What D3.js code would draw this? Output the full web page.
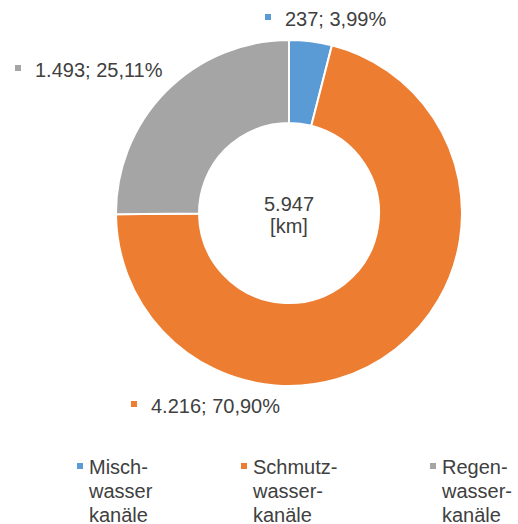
<!DOCTYPE html>
<html>
<head>
<meta charset="utf-8">
<script src="https://cdn.jsdelivr.net/npm/d3@7"></script>
<style>
  html, body { margin: 0; padding: 0; background: #fff; }
  svg { display: block; font-family: "Liberation Sans", Arial, sans-serif; }
</style>
</head>
<body>
<svg id="chart" width="518" height="524"></svg>
<script>
// ---- data ----
const categories = ["Misch-wasser kanäle", "Schmutz-wasser-kanäle", "Regen-wasser-kanäle"];
const legendLines = [["Misch-", "wasser", "kanäle"], ["Schmutz-", "wasser-", "kanäle"], ["Regen-", "wasser-", "kanäle"]];
const values = [237, 4216, 1493];
const valueLabels = ["237", "4.216", "1.493"];
const percentLabels = ["3,99%", "70,90%", "25,11%"];
const totalLabel = ["5.947", "[km]"];
const colors = ["#5B9BD5", "#ED7D31", "#A5A5A5"];

// ---- layout ----
const W = 518, H = 524;
const cx = 289, cy = 213, R = 173, r = 90;
const textColor = "#404040";
const fontSize = 20;
// label anchor (marker x, text baseline) for each slice
const labelPos = [{x: 265, y: 26}, {x: 131, y: 413}, {x: 15, y: 77}];
const legendX = [77, 241, 430];
const legendY = 474;

const svg = d3.select("#chart");

const pie = d3.pie().value(d => d).sort(null);
const arcs = pie(values);
const arc = d3.arc().innerRadius(r).outerRadius(R);

const g = svg.append("g").attr("transform", `translate(${cx},${cy})`);
g.selectAll("path").data(arcs).enter().append("path")
  .attr("d", arc)
  .attr("fill", (d, i) => colors[i])
  .attr("stroke", "#fff")
  .attr("stroke-width", 2)
  .attr("stroke-linejoin", "miter");

// center label
const ct = svg.append("text")
  .attr("x", cx).attr("y", 211)
  .attr("text-anchor", "middle")
  .attr("font-size", fontSize)
  .attr("fill", textColor);
totalLabel.forEach((t, i) => {
  ct.append("tspan").attr("x", cx).attr("dy", i === 0 ? 0 : 22).text(t);
});

// data labels
values.forEach((v, i) => {
  const p = labelPos[i];
  svg.append("rect")
    .attr("x", p.x).attr("y", p.y - 12)
    .attr("width", 6).attr("height", 6)
    .attr("fill", colors[i]);
  svg.append("text")
    .attr("x", p.x + 20).attr("y", p.y)
    .attr("font-size", fontSize)
    .attr("fill", textColor)
    .text(`${valueLabels[i]}; ${percentLabels[i]}`);
});

// legend
categories.forEach((c, i) => {
  const x = legendX[i];
  svg.append("rect")
    .attr("x", x).attr("y", legendY - 11)
    .attr("width", 6).attr("height", 6)
    .attr("fill", colors[i]);
  const t = svg.append("text")
    .attr("x", x + 12).attr("y", legendY)
    .attr("font-size", fontSize)
    .attr("fill", textColor);
  legendLines[i].forEach((ln, j) => {
    t.append("tspan").attr("x", x + 12).attr("dy", j === 0 ? 0 : 24).text(ln);
  });
});
</script>
</body>
</html>
